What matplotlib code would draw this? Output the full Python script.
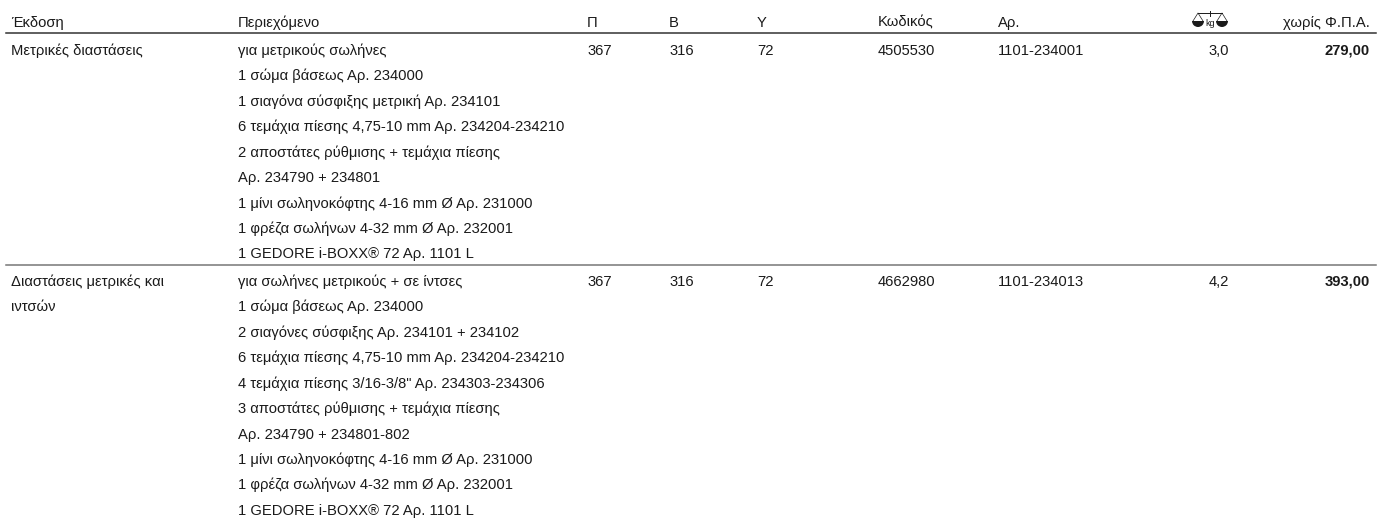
import matplotlib
matplotlib.use("Agg")
import matplotlib.pyplot as plt
from matplotlib.patches import Wedge

W, H = 1386, 522
headers = ["Έκδοση", "Περιεχόμενο", "Π", "Β", "Υ", "Κωδικός", "Αρ."]
header_x = [11, 238, 587, 669, 757, 878, 998]
price_header = "χωρίς Φ.Π.Α."

editions = ["Μετρικές διαστάσεις", "Διαστάσεις μετρικές και\nιντσών"]
contents = [
    ["για μετρικούς σωλήνες", "1 σώμα βάσεως Αρ. 234000",
     "1 σιαγόνα σύσφιξης μετρική Αρ. 234101",
     "6 τεμάχια πίεσης 4,75-10 mm Αρ. 234204-234210",
     "2 αποστάτες ρύθμισης + τεμάχια πίεσης", "Αρ. 234790 + 234801",
     "1 μίνι σωληνοκόφτης 4-16 mm Ø Αρ. 231000",
     "1 φρέζα σωλήνων 4-32 mm Ø Αρ. 232001",
     "1 GEDORE i-BOXX® 72 Αρ. 1101 L"],
    ["για σωλήνες μετρικούς + σε ίντσες", "1 σώμα βάσεως Αρ. 234000",
     "2 σιαγόνες σύσφιξης Αρ. 234101 + 234102",
     "6 τεμάχια πίεσης 4,75-10 mm Αρ. 234204-234210",
     "4 τεμάχια πίεσης 3/16-3/8\" Αρ. 234303-234306",
     "3 αποστάτες ρύθμισης + τεμάχια πίεσης", "Αρ. 234790 + 234801-802",
     "1 μίνι σωληνοκόφτης 4-16 mm Ø Αρ. 231000",
     "1 φρέζα σωλήνων 4-32 mm Ø Αρ. 232001",
     "1 GEDORE i-BOXX® 72 Αρ. 1101 L"],
]
dim_p = ["367", "367"]
dim_b = ["316", "316"]
dim_h = ["72", "72"]
codes = ["4505530", "4662980"]
arts = ["1101-234001", "1101-234013"]
weights = ["3,0", "4,2"]
prices = ["279,00", "393,00"]

plt.rcParams["font.family"] = ["Liberation Sans", "DejaVu Sans"]

fig = plt.figure(figsize=(W / 100, H / 100), dpi=100)
ax = fig.add_axes([0, 0, 1, 1])
ax.set_xlim(0, W)
ax.set_ylim(H, 0)
ax.axis("off")
FS = 10.6
C = "#1a1a1a"
LH = 25.47
BASE = 5.7  # baseline offset below the row's visual centre

def t(x, y, s, **k):
    ax.text(x, y + BASE, s, fontsize=FS, color=C, va="baseline", **k)

for x, s in zip(header_x, headers):
    t(x, 21, s)
t(1370, 21, price_header, ha="right")

# weight icon in header
ax.text(1210, 23, "kg", fontsize=6.5, color=C, ha="center", va="center")
ax.plot([1198, 1222], [13, 13], color=C, lw=0.7)
ax.plot([1210, 1210], [11, 16], color=C, lw=0.7)
for cx in (1198, 1222):
    ax.plot([cx - 5, cx, cx + 5], [21, 13, 21], color=C, lw=0.5)
    ax.add_patch(Wedge((cx, 21), 6, 0, 180, color=C, lw=0))

ax.plot([6, 1376], [33, 33], color="#333333", lw=1.1)
ax.plot([6, 1376], [265, 265], color="#777777", lw=1.1)

starts = [49, 280]
for i, y0 in enumerate(starts):
    for j, part in enumerate(editions[i].split("\n")):
        t(11, y0 + j * LH, part)
    for j, line in enumerate(contents[i]):
        t(238, y0 + j * LH, line)
    t(header_x[2], y0, dim_p[i]); t(header_x[3], y0, dim_b[i]); t(header_x[4], y0, dim_h[i])
    t(header_x[5], y0, codes[i]); t(header_x[6], y0, arts[i])
    t(1229, y0, weights[i], ha="right")
    t(1370, y0, prices[i], ha="right", weight="bold")

fig.savefig("out.png", dpi=100)
